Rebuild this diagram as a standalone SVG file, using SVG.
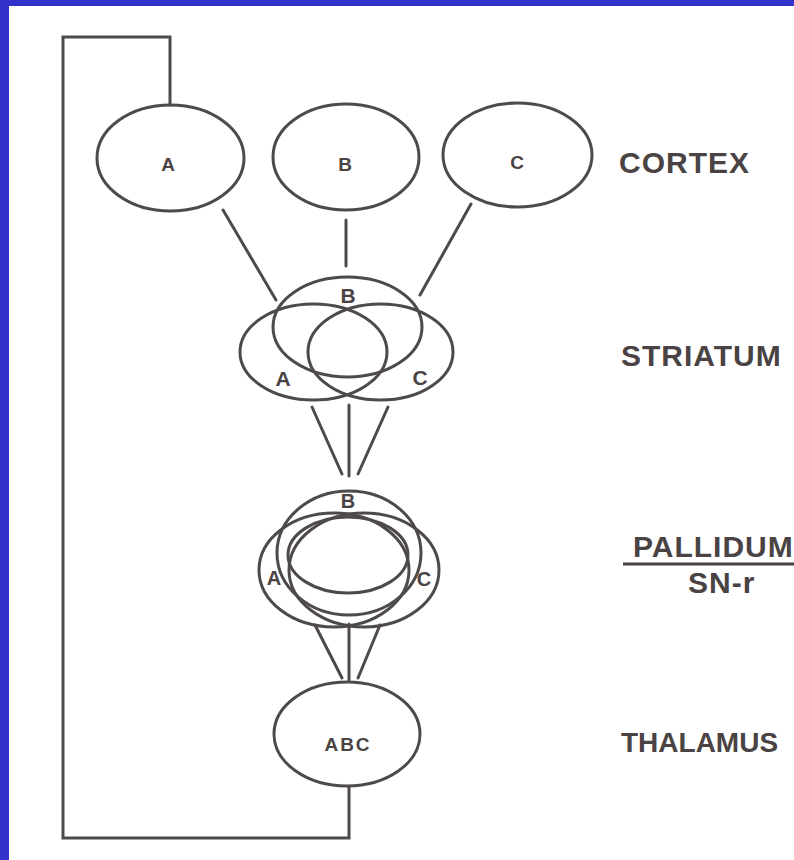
<svg xmlns="http://www.w3.org/2000/svg" width="794" height="860" viewBox="0 0 794 860">
<style>
.o{fill:none;stroke:#4f4a4a;stroke-width:3}
.c{fill:none;stroke:#4f4a4a;stroke-width:3;stroke-linecap:round;stroke-linejoin:miter}
.lbl{font-family:"Liberation Sans",Arial,sans-serif;font-weight:bold;fill:#4a4343;text-anchor:middle}
.big{font-family:"Liberation Sans",Arial,sans-serif;font-weight:bold;fill:#4a4343;font-size:30px;letter-spacing:1px}
</style>
<rect x="0" y="0" width="794" height="860" fill="#ffffff"/>
<rect x="0" y="0" width="794" height="6" fill="#3333cc"/>
<rect x="0" y="0" width="9" height="860" fill="#3333cc"/>

<g id="connectors">
<polyline class="c" points="170,105 170,37 63,37 63,838 349,838 349,787"/>
<line class="c" x1="223" y1="210" x2="276" y2="300"/>
<line class="c" x1="346" y1="220" x2="346" y2="266"/>
<line class="c" x1="471" y1="204" x2="420" y2="295"/>
<line class="c" x1="312" y1="407" x2="342" y2="474"/>
<line class="c" x1="349" y1="405" x2="349" y2="476"/>
<line class="c" x1="388" y1="407" x2="358" y2="474"/>
<line class="c" x1="315" y1="625" x2="342" y2="678"/>
<line class="c" x1="349" y1="624" x2="349" y2="680"/>
<line class="c" x1="380" y1="625" x2="358" y2="678"/>
</g>

<g id="cortex-A">
<ellipse class="o" cx="170.5" cy="158" rx="73.5" ry="53"/>
<text class="lbl" x="168" y="171" font-size="19">A</text>
</g>
<g id="cortex-B">
<ellipse class="o" cx="346" cy="157" rx="73" ry="53"/>
<text class="lbl" x="345" y="171" font-size="19">B</text>
</g>
<g id="cortex-C">
<ellipse class="o" cx="517.5" cy="155" rx="74.5" ry="52"/>
<text class="lbl" x="517" y="169" font-size="19">C</text>
</g>

<g id="striatum">
<ellipse class="o" cx="347.5" cy="327" rx="74.5" ry="50"/>
<ellipse class="o" cx="313.5" cy="352" rx="73.5" ry="48"/>
<ellipse class="o" cx="380.5" cy="352" rx="72.5" ry="48"/>
<text class="lbl" x="348" y="303" font-size="21">B</text>
<text class="lbl" x="283" y="386" font-size="21">A</text>
<text class="lbl" x="420" y="385" font-size="21">C</text>
</g>

<g id="pallidum">
<ellipse class="o" cx="349" cy="553" rx="72" ry="62"/>
<ellipse class="o" cx="334" cy="570" rx="75" ry="57"/>
<ellipse class="o" cx="364" cy="570" rx="75" ry="57"/>
<ellipse class="o" cx="348" cy="555" rx="60" ry="38"/>
<text class="lbl" x="348" y="508" font-size="20">B</text>
<text class="lbl" x="274" y="585" font-size="20">A</text>
<text class="lbl" x="424" y="586" font-size="20">C</text>
</g>

<g id="thalamus">
<ellipse class="o" cx="347" cy="734" rx="73" ry="52"/>
<text class="lbl" x="348" y="751" font-size="19" letter-spacing="2">ABC</text>
</g>

<g id="level-labels">
<text class="big" x="619" y="173">CORTEX</text>
<text class="big" x="621" y="366">STRIATUM</text>
<text class="big" x="633" y="557">PALLIDUM</text>
<line x1="623" y1="564" x2="794" y2="564" stroke="#4a4343" stroke-width="3"/>
<text class="big" x="688" y="593">SN-r</text>
<text class="big" x="621" y="752" style="font-size:28px;letter-spacing:0px">THALAMUS</text>
</g>
</svg>
